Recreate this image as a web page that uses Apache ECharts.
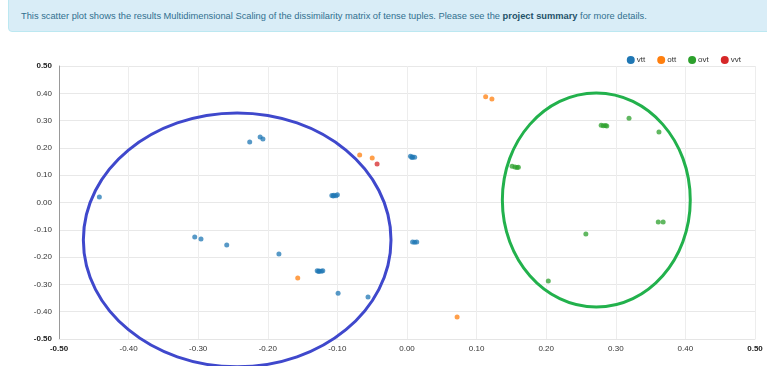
<!DOCTYPE html>
<html>
<head>
<meta charset="utf-8">
<script src="https://cdn.jsdelivr.net/npm/echarts@6/dist/echarts.min.js"></script>
<style>
html,body{margin:0;padding:0;background:#fff;width:767px;height:366px;overflow:hidden;}
#banner{position:absolute;left:8px;top:-5px;width:780px;height:37px;background:#d9edf7;border:1px solid #bce8f1;border-radius:4px;box-sizing:border-box;
 font-family:"Liberation Sans",Arial,sans-serif;font-size:9.3px;color:#31708f;line-height:9px;padding:16px 0 0 12px;white-space:nowrap;}
#banner b{color:#245269;}
#chart{position:absolute;left:0;top:0;width:767px;height:366px;}
</style>
</head>
<body>
<div id="chart"></div>
<div id="banner">This scatter plot shows the results Multidimensional Scaling of the dissimilarity matrix of tense tuples. Please see the <b>project summary</b> for more details.</div>
<script>
// Series names
const seriesNames = ['vtt', 'ott', 'ovt', 'vvt'];
const seriesColors = ['#1f77b4', '#ff7f0e', '#2ca02c', '#d62728'];

// vtt points [x, y]
const vttPoints = [
  [-0.442, 0.020],
  [-0.226, 0.222], [-0.211, 0.240], [-0.207, 0.233],
  [-0.305, -0.126], [-0.296, -0.134], [-0.259, -0.156], [-0.184, -0.189],
  [-0.108, 0.026], [-0.105, 0.027], [-0.102, 0.025], [-0.100, 0.028], [-0.106, 0.024],
  [-0.129, -0.250], [-0.126, -0.251], [-0.123, -0.252], [-0.121, -0.250], [-0.127, -0.253],
  [-0.099, -0.332], [-0.056, -0.346],
  [0.005, 0.169], [0.008, 0.167], [0.011, 0.166], [0.007, 0.165],
  [0.008, -0.145], [0.011, -0.146], [0.014, -0.145]
];
// ott points
const ottPoints = [
  [-0.068, 0.174], [-0.050, 0.163], [-0.157, -0.277], [0.072, -0.419],
  [0.113, 0.387], [0.122, 0.379]
];
// ovt points
const ovtPoints = [
  [0.279, 0.283], [0.282, 0.281], [0.285, 0.282], [0.287, 0.280],
  [0.319, 0.309], [0.362, 0.258],
  [0.151, 0.133], [0.155, 0.130], [0.158, 0.128], [0.160, 0.129],
  [0.361, -0.071], [0.368, -0.071],
  [0.257, -0.115], [0.203, -0.288]
];
// vvt points
const vvtPoints = [
  [-0.043, 0.141]
];
// Annotation ellipses [centerX, centerY, radiusX, radiusY]
const ellipses = [
  [-0.244, -0.137, 0.221, 0.465],
  [0.272, 0.009, 0.135, 0.392]
];
const ellipseColors = ['#3f48cc', '#22b14c'];

const axisMin = -0.5, axisMax = 0.5, axisStep = 0.1;

function fmt(v) {
  const s = v.toFixed(2);
  const t = (s === '-0.00') ? '0.00' : s;
  return (Math.abs(Math.abs(v) - 0.5) < 1e-9) ? '{b|' + t + '}' : t;
}
const labelBase = {
  fontFamily: 'Liberation Sans, Arial, sans-serif',
  fontSize: 8,
  color: '#333',
  rich: { b: { fontWeight: 'bold', fontSize: 8, color: '#222', fontFamily: 'Liberation Sans, Arial, sans-serif' } }
};

const chart = echarts.init(document.getElementById('chart'), null, { renderer: 'canvas' });
const pointSets = [vttPoints, ottPoints, ovtPoints, vvtPoints];
const scatterSeries = seriesNames.map((n, i) => ({
  name: n,
  type: 'scatter',
  data: pointSets[i],
  symbolSize: 5,
  itemStyle: { color: seriesColors[i], opacity: 0.75 },
  emphasis: { disabled: true },
  z: 2
}));

chart.setOption({
  animation: false,
  color: seriesColors,
  legend: {
    data: seriesNames.map(n => ({ name: n, icon: 'circle', itemStyle: { opacity: 1 } })),
    top: 51,
    right: 21,
    itemWidth: 8,
    itemHeight: 8,
    itemGap: 12,
    textStyle: { fontFamily: 'Liberation Sans, Arial, sans-serif', fontSize: 8, color: '#333', padding: [0, 0, 0, -3] }
  },
  grid: { left: 59, right: 12, top: 66, bottom: 27, containLabel: false },
  xAxis: {
    type: 'value', min: axisMin, max: axisMax, interval: axisStep,
    axisLine: { show: true, onZero: false, lineStyle: { color: '#e5e5e5' } },
    axisTick: { show: false },
    splitLine: { show: true, lineStyle: { color: '#ededed' } },
    axisLabel: Object.assign({ formatter: fmt, margin: 6 }, labelBase)
  },
  yAxis: {
    type: 'value', min: axisMin, max: axisMax, interval: axisStep,
    axisLine: { show: true, onZero: false, lineStyle: { color: '#999' } },
    axisTick: { show: false },
    splitLine: { show: true, lineStyle: { color: '#e8e8e8' } },
    axisLabel: Object.assign({ formatter: fmt, margin: 7 }, labelBase)
  },
  series: scatterSeries.concat([{
    type: 'custom',
    name: 'ellipses',
    data: ellipses,
    clip: false,
    silent: true,
    z: 5,
    renderItem: function (params, api) {
      const c = api.coord([api.value(0), api.value(1)]);
      const s = api.size([api.value(2), api.value(3)]);
      return {
        type: 'ellipse',
        shape: { cx: c[0], cy: c[1], rx: s[0], ry: s[1] },
        style: { fill: 'none', stroke: ellipseColors[params.dataIndex], lineWidth: 3 }
      };
    }
  }])
});
</script>
</body>
</html>
